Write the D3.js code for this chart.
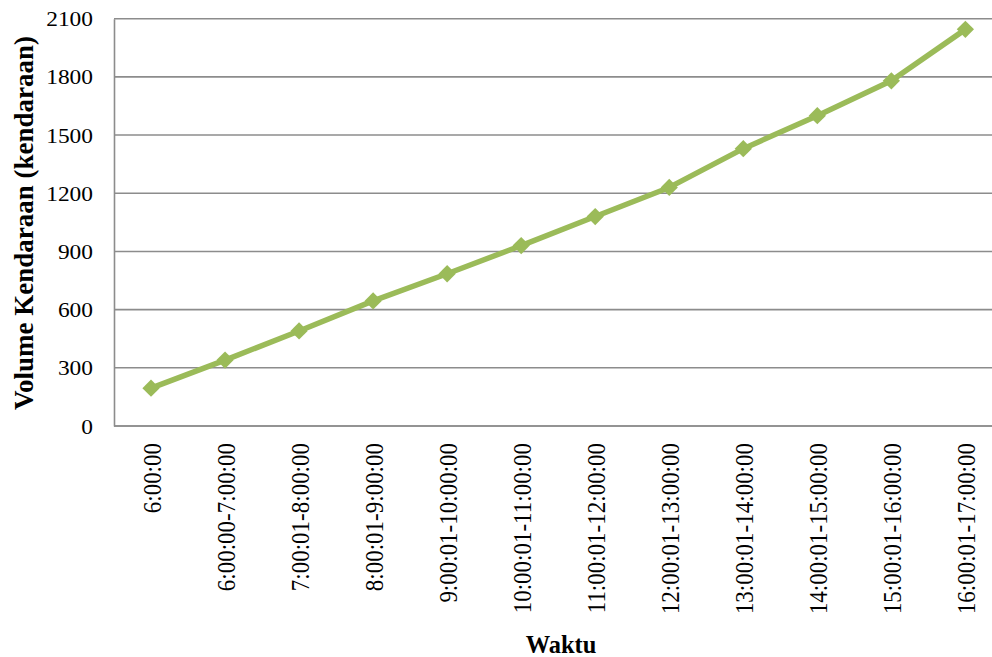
<!DOCTYPE html>
<html>
<head>
<meta charset="utf-8">
<script src="https://cdn.jsdelivr.net/npm/d3@7"></script>
<style>
  html, body { margin: 0; padding: 0; background: #fff; overflow: hidden; }
  svg { display: block; }
  svg text { font-family: "Liberation Serif", "Times New Roman", Times, serif !important; fill: #000; }
</style>
</head>
<body>
<svg id="chart" width="992" height="657"></svg>
<script>
// Hourly traffic volume (vehicles)
const categories = [
  "6:00:00", "6:00:00-7:00:00", "7:00:01-8:00:00", "8:00:01-9:00:00",
  "9:00:01-10:00:00", "10:00:01-11:00:00", "11:00:01-12:00:00",
  "12:00:01-13:00:00", "13:00:01-14:00:00", "14:00:01-15:00:00",
  "15:00:01-16:00:00", "16:00:01-17:00:00"
];
const volumes = [195, 340, 490, 645, 785, 930, 1080, 1230, 1430, 1600, 1780, 2045];
const yTicks = [0, 300, 600, 900, 1200, 1500, 1800, 2100];
const yTitle = "Volume Kendaraan (kendaraan)";
const xTitle = "Waktu";

const serif = "'Liberation Serif', 'Times New Roman', serif";
const svg = d3.select("#chart");
const plotLeft = 114, plotTop = 18.7, plotBottom = 426, plotRight = 1002.4;

const x = d3.scaleBand().domain(categories).range([plotLeft, plotRight]);
const y = d3.scaleLinear().domain([0, 2100]).range([plotBottom, plotTop]);

// horizontal gridlines
svg.append("g")
  .selectAll("line")
  .data(yTicks)
  .join("line")
  .attr("x1", plotLeft).attr("x2", plotRight)
  .attr("y1", d => y(d)).attr("y2", d => y(d))
  .attr("stroke", "#8c8c8c").attr("stroke-width", 1.6);

// y axis line and labels (slightly widened glyphs)
const yAxis = svg.append("g")
  .attr("transform", `translate(${plotLeft},0)`)
  .call(d3.axisLeft(y).tickValues(yTicks).tickFormat(d3.format("d")).tickSize(0));
yAxis.attr("font-family", serif).attr("font-size", 20);
yAxis.select(".domain").attr("stroke", "#8c8c8c").attr("stroke-width", 1.6);
yAxis.selectAll("text")
  .style("font-family", serif)
  .style("font-size", "20px")
  .attr("fill", "#000")
  .attr("text-anchor", "end")
  .attr("x", 0)
  .attr("dy", "0.35em")
  .attr("transform", "translate(-21,0) scale(1.17,1)");

// x axis labels (rotated)
const xAxis = svg.append("g")
  .attr("transform", `translate(0,${plotBottom})`)
  .call(d3.axisBottom(x).tickSize(0).tickPadding(0));
xAxis.attr("font-family", serif).attr("font-size", 23);
xAxis.select(".domain").remove();
xAxis.selectAll("text")
  .style("font-family", serif)
  .style("font-size", "23px")
  .attr("fill", "#000")
  .attr("text-anchor", "end")
  .attr("transform", "translate(1,17) rotate(-90) scale(1,1.08)")
  .attr("x", 0).attr("y", 0)
  .attr("dy", "0.35em");

// bottom axis line
svg.append("line")
  .attr("x1", plotLeft).attr("x2", plotRight)
  .attr("y1", plotBottom).attr("y2", plotBottom)
  .attr("stroke", "#8c8c8c").attr("stroke-width", 1.6);

// series line
const cx = d => x(d) + x.bandwidth() / 2;
const line = d3.line()
  .x((d, i) => cx(categories[i]))
  .y(d => y(d));
svg.append("path")
  .datum(volumes)
  .attr("d", line)
  .attr("fill", "none")
  .attr("stroke", "#9BBB59")
  .attr("stroke-width", 5.5)
  .attr("stroke-linejoin", "round");

// diamond markers
const diamond = d3.symbol().type(d3.symbolDiamond2).size(190);
svg.append("g")
  .selectAll("path")
  .data(volumes)
  .join("path")
  .attr("d", diamond)
  .attr("transform", (d, i) => `translate(${cx(categories[i])},${y(d)})`)
  .attr("fill", "#9BBB59");

// axis titles
svg.append("text")
  .attr("transform", `translate(33,223) rotate(-90)`)
  .attr("text-anchor", "middle")
  .style("font-family", serif)
  .style("font-size", "27px")
  .attr("font-weight", "bold")
  .text(yTitle);

svg.append("text")
  .attr("transform", "translate(561,652.5) scale(0.94,1)")
  .attr("text-anchor", "middle")
  .style("font-family", serif)
  .style("font-size", "26px")
  .attr("font-weight", "bold")
  .text(xTitle);
</script>
</body>
</html>
